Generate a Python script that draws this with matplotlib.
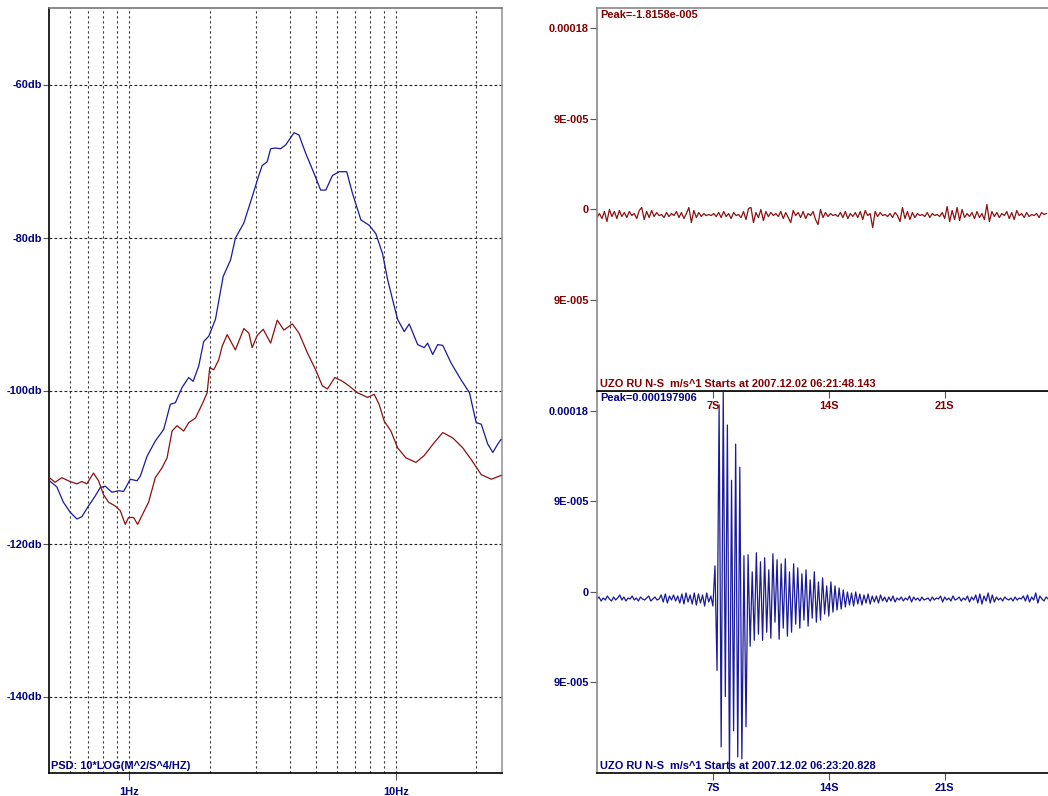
import numpy as np
import matplotlib
matplotlib.use('Agg')
import matplotlib.pyplot as plt
from matplotlib.ticker import FixedLocator, NullFormatter

plt.rcParams['font.family'] = ['Liberation Sans', 'DejaVu Sans']

# ---------------- PSD data (Hz, dB) ----------------
blue_freq = [0.502, 0.535, 0.566, 0.600, 0.636, 0.664, 0.703, 0.745, 0.778, 0.812,
             0.861, 0.912, 0.952, 1.009, 1.069, 1.100, 1.166, 1.252, 1.346, 1.426,
             1.489, 1.578, 1.671, 1.736, 1.822, 1.902, 1.987, 2.105, 2.25, 2.40,
             2.50, 2.69, 2.89, 3.06, 3.15, 3.29, 3.39, 3.54, 3.69, 3.86,
             4.15, 4.33, 4.59, 4.93, 5.22, 5.46, 5.78, 6.12, 6.54, 6.87,
             7.39, 7.94, 8.41, 8.91, 9.31, 9.86, 10.15, 10.75, 11.22, 12.07,
             12.77, 13.15, 13.74, 14.35, 14.99, 16.10, 17.55, 18.88, 20.0, 20.9,
             22.1, 23.1, 24.1, 24.8]
blue_db = [-111.8, -112.6, -114.6, -115.9, -116.8, -116.5, -115.1, -113.8, -112.7, -112.5,
           -113.3, -113.1, -113.2, -111.6, -111.8, -111.2, -108.6, -106.6, -105.1, -101.8,
           -101.6, -99.6, -98.3, -98.8, -96.8, -93.6, -92.9, -90.7, -85.1, -82.9,
           -80.1, -78.1, -74.7, -71.9, -70.6, -70.1, -68.4, -68.3, -68.4, -67.9,
           -66.3, -66.6, -69.0, -71.6, -73.8, -73.8, -71.9, -71.4, -71.4, -74.2,
           -77.7, -78.4, -79.5, -82.1, -85.5, -89.0, -90.7, -92.3, -91.3, -94.0,
           -94.4, -93.8, -95.3, -94.0, -94.1, -96.4, -98.6, -100.3, -104.2, -104.4,
           -107.0, -108.1, -107.0, -106.4]

red_freq = [0.502, 0.527, 0.558, 0.600, 0.636, 0.664, 0.693, 0.734, 0.767, 0.800,
            0.836, 0.886, 0.925, 0.966, 0.994, 1.038, 1.075, 1.132, 1.182, 1.252,
            1.327, 1.386, 1.447, 1.511, 1.600, 1.671, 1.771, 1.876, 1.959, 2.004,
            2.074, 2.165, 2.231, 2.33, 2.50, 2.69, 2.81, 2.89, 3.02, 3.18,
            3.39, 3.59, 3.80, 4.09, 4.33, 4.66, 5.00, 5.30, 5.54, 5.90,
            6.31, 6.67, 7.18, 7.83, 8.29, 8.65, 9.04, 9.58, 10.15, 10.90,
            11.89, 12.77, 13.93, 14.99, 16.34, 17.82, 19.14, 20.9, 22.8, 24.8]
red_db = [-111.4, -112.0, -111.4, -111.9, -112.2, -111.9, -112.2, -110.8, -111.8, -113.6,
          -114.6, -115.1, -115.7, -117.5, -116.6, -116.6, -117.5, -115.9, -114.6, -111.4,
          -110.1, -108.8, -105.3, -104.6, -105.3, -104.2, -103.6, -101.8, -100.3, -97.0,
          -97.3, -96.0, -94.2, -92.7, -94.7, -91.9, -92.5, -94.4, -92.8, -92.0,
          -93.8, -90.8, -92.1, -91.3, -92.5, -95.1, -97.3, -99.4, -99.8, -98.3,
          -98.8, -99.4, -100.3, -100.9, -100.5, -101.8, -104.0, -105.3, -107.5, -108.8,
          -109.4, -108.5, -106.8, -105.5, -106.2, -107.5, -109.0, -111.0, -111.6, -111.1]

db_ticks = [-60, -80, -100, -120, -140]
db_labels = ['-60db', '-80db', '-100db', '-120db', '-140db']
freq_ticks = [1, 10]
freq_labels = ['1Hz', '10Hz']
freq_grid = [0.6, 0.7, 0.8, 0.9, 1, 2, 3, 4, 5, 6, 7, 8, 9, 10, 20]

# ---------------- waveform data (micro m/s) ----------------
top_dt = 0.15
top_vals_um = [
    -8, -4, -9, -2, -12, 0, -7, -2, -9, -1,
    -7, -3, -8, -2, -6, -4, -9, -1, 2, -10,
    -2, -8, -1, -7, -3, -6, -5, -8, -3, -7,
    -4, -6, -2, -8, -3, -9, -4, 2, -13, -1,
    -8, -3, -7, -4, -6, -5, -6, -4, -7, -3,
    -8, -2, -7, -4, -9, -3, -6, -5, -8, -2,
    -10, 1, 2, -13, -3, -8, 0, -11, -2, -7,
    -3, -6, -4, -7, -2, -9, -3, -8, -13, -1,
    -6, -3, -8, -2, -9, -4, -6, -2, -10, -15,
    0, -8, -3, -7, -4, -6, -5, -7, -3, -8,
    -2, -9, -4, -7, -3, -8, -2, -10, -1, -6,
    -4, -18, -2, -7, -3, -6, -5, -7, -4, -8,
    -3, -6, -12, 2, -9, -2, -10, -3, -8, -4,
    -6, -5, -7, -3, -8, -4, -6, -5, -7, -3,
    -9, 3, -12, -1, -10, 2, -11, 0, -8, -4,
    -7, -3, -9, -2, -8, -4, -10, 5, -12, -2,
    -7, -3, -8, -4, -6, -2, -9, -3, -10, -1,
    -6, -4, -8, -3, -7, -5, -6, -4, -8, -3, -5, -4]

bot_dt = 0.125
bot_vals_um = [
    -7, -5, -9, -6, -8, -4, -7, -9, -5, -8,
    -6, -3, -8, -5, -9, -6, -7, -4, -8, -6,
    -9, -5, -7, -8, -6, -4, -9, -7, -5, -8,
    -7, -3, -10, -2, -11, -4, -8, -3, -9, -4,
    -11, -2, -12, -1, -10, -3, -12, -1, -13, -2,
    -11, -3, -14, -1, -10, -4,
    -14,
    26, -78, 186, -154, 199, -104, 166, -181, 111, -138,
    147, -164, 124, -166, 36, -134, 37, -54, 20, -48,
    39, -42, 30, -48, 34, -40, 22, -46, 38, -30,
    32, -47, 28, -36, 33, -44, 20, -40, 28, -32,
    24, -36, 18, -28, 22, -34, 12, -26, 20, -30,
    10, -28, 14, -22, 6, -24, 10, -20, 6, -18,
    4, -17, 2, -15, 0, -13, -1, -14, 0, -12,
    -2, -13, -3, -11, -2, -12, -4, -10, -4, -11,
    -3, -9, -5, -10,
    -5, -9, -4, -10, -6, -8, -5, -9, -6, -8,
    -4, -10, -5, -8, -6, -9, -5, -8, -7, -6,
    -9, -5, -8, -6, -7, -4, -10, -5, -8, -6,
    -9, -4, -8, -7, -5, -9, -6, -8, -4, -10,
    -5, -8, -3, -11, -2, -12, -4, -9, -1, -11,
    -3, -10, -5, -8, -6, -9, -5, -7, -8, -6,
    -9, -5, -8, -6, -7, -4, -9, -3, -10, -5,
    -8, -1, -11, -4, -7, -9, -5, -7]

amp_ticks = [1.8e-4, 9e-5, 0.0, -9e-5]
amp_labels = ['0.00018', '9E-005', '0', '9E-005']
time_ticks = [7, 14, 21]
time_labels = ['7S', '14S', '21S']

top_title = 'UZO RU N-S  m/s^1 Starts at 2007.12.02 06:21:48.143'
bot_title = 'UZO RU N-S  m/s^1 Starts at 2007.12.02 06:23:20.828'
top_peak = 'Peak=-1.8158e-005'
bot_peak = 'Peak=0.000197906'
psd_label = 'PSD: 10*LOG(M^2/S^4/HZ)'

NAVY = '#000080'
DRED = '#800000'
BLUE_LINE = '#1a1a9a'
RED_LINE = '#8c1010'
FS = 7.9

W, H = 1048, 796
fig = plt.figure(figsize=(W / 100, H / 100), dpi=100)


def rect(x0, y0, x1, y1):
    return [x0 / W, 1 - y1 / H, (x1 - x0) / W, (y1 - y0) / H]


# ---------------- left PSD panel ----------------
ax = fig.add_axes(rect(49, 8, 502, 773))
ax.set_xscale('log')
ax.plot(blue_freq, blue_db, color=BLUE_LINE, lw=0.9, zorder=3)
ax.plot(red_freq, red_db, color=RED_LINE, lw=0.9, zorder=3)
ax.set_xlim(0.5, 25)
ax.set_ylim(-150, -50)
ax.xaxis.set_major_locator(FixedLocator(freq_ticks))
ax.set_xticklabels(freq_labels)
ax.xaxis.set_minor_locator(FixedLocator([f for f in freq_grid if f not in freq_ticks]))
ax.xaxis.set_minor_formatter(NullFormatter())
ax.set_yticks(db_ticks)
ax.set_yticklabels(db_labels)
ax.tick_params(axis='x', which='major', length=5, width=0.8, color='#555555',
               labelcolor=NAVY, labelsize=FS, pad=5)
ax.tick_params(axis='x', which='minor', length=0)
ax.tick_params(axis='y', length=4, width=0.8, color='#555555', labelcolor=NAVY,
               labelsize=FS, pad=1)
for lab in ax.get_xticklabels() + ax.get_yticklabels():
    lab.set_fontweight('bold')
ax.grid(axis='x', which='both', color='#333333', lw=0.8, linestyle=(0, (2, 2.5)))
ax.grid(axis='y', which='major', color='#222222', lw=0.8, linestyle=(0, (2.5, 2)))
ax.spines['left'].set_color('black')
ax.spines['bottom'].set_color('black')
ax.spines['top'].set_color('#777777')
ax.spines['right'].set_color('#999999')
for s in ax.spines.values():
    s.set_linewidth(1.2)
ax.annotate(psd_label, xy=(0, 0), xycoords='axes fraction', xytext=(2, 2),
            textcoords='offset pixels', color=NAVY, fontsize=FS, fontweight='bold',
            ha='left', va='bottom')

# ---------------- right waveform panels ----------------
ylo, yhi = -180e-6, 199.8e-6


def wave_axes(r, vals, dt, col, tickcol, title, peak, z):
    a = fig.add_axes(r)
    a.set_zorder(z)
    t = np.arange(len(vals)) * dt
    a.plot(t, np.array(vals) * 1e-6, color=col, lw=0.9)
    a.set_xlim(0, 27.3)
    a.set_ylim(ylo, yhi)
    a.set_yticks(amp_ticks)
    a.set_yticklabels(amp_labels)
    a.set_xticks(time_ticks)
    a.set_xticklabels(time_labels)
    a.tick_params(axis='both', length=5, width=0.8, color='#555555',
                  labelcolor=tickcol, labelsize=FS, pad=1)
    a.tick_params(axis='x', pad=2)
    for lab in a.get_xticklabels() + a.get_yticklabels():
        lab.set_fontweight('bold')
    a.spines['right'].set_visible(False)
    a.spines['left'].set_color('#888888')
    a.spines['top'].set_color('#888888')
    a.spines['bottom'].set_color('black')
    for s in a.spines.values():
        s.set_linewidth(1.2)
    a.annotate(peak, xy=(0, 1), xycoords='axes fraction', xytext=(3, -2),
               textcoords='offset pixels', color=tickcol, fontsize=FS,
               fontweight='bold', ha='left', va='top')
    a.annotate(title, xy=(0, 0), xycoords='axes fraction', xytext=(3, 2),
               textcoords='offset pixels', color=tickcol, fontsize=FS,
               fontweight='bold', ha='left', va='bottom')
    return a


ax_top = wave_axes(rect(597, 8, 1049, 391), top_vals_um, top_dt, RED_LINE, DRED,
                   top_title, top_peak, 3)
ax_bot = wave_axes(rect(597, 391, 1049, 773), bot_vals_um, bot_dt, BLUE_LINE, NAVY,
                   bot_title, bot_peak, 2)
ax_bot.patch.set_alpha(0)

fig.savefig('out.png', dpi=100)
